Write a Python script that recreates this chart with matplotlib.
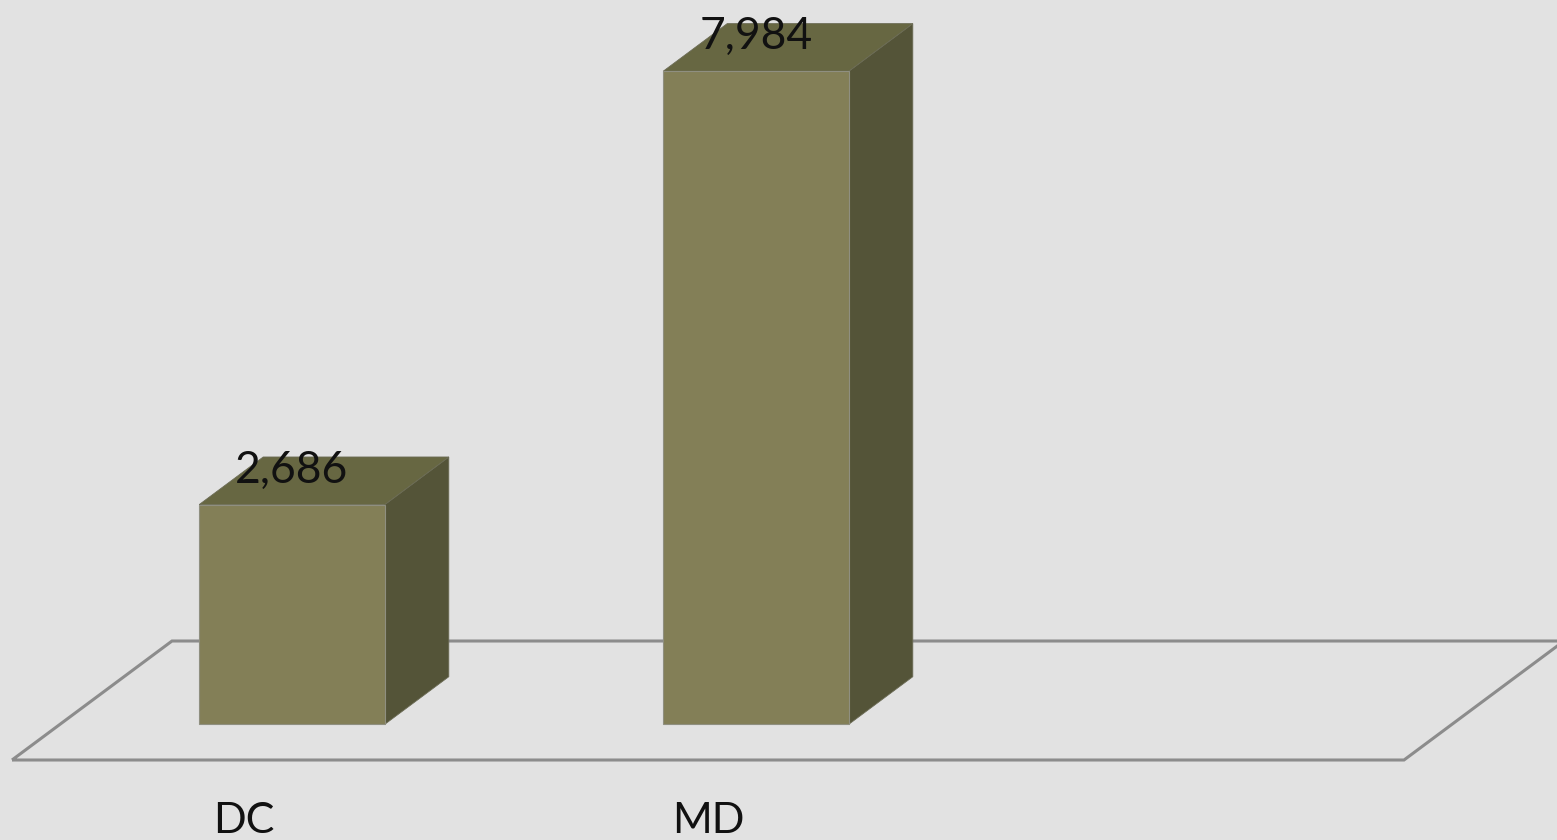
import matplotlib

matplotlib.use("Agg")

import matplotlib.pyplot as plt
from matplotlib.patches import Polygon

categories = ["DC", "MD", ""]
values = [2686, 7984, None]
value_labels = ["2,686", "7,984", ""]

BG = "#e2e2e2"
FRONT = "#837f57"
SIDE = "#545438"
TOP = "#676742"
FLOOR_LINE = "#8c8c8c"
FONT = ["Lato", "DejaVu Sans"]

# pixel-ish geometry of the fake 3D projection
W, H = 1557, 840
CAT_PX = 464.0            # width of one category slot on the floor front
K = 0.0818                # pixels per value unit
FLOOR_LEFT_PX = 12.0
FLOOR_FRONT_PX = 760.0
DEPTH_DX = 160.0 / CAT_PX  # full floor depth, in category units
DEPTH_DY = 119.0 / K       # full floor depth, in value units
BAR_T0, BAR_T1 = 0.30, 0.70
BAR_W = 0.40


def main():
    fig = plt.figure(figsize=(W / 100, H / 100), dpi=100)
    fig.patch.set_facecolor(BG)
    ax = fig.add_axes([0, 0, 1, 1])
    ax.set_facecolor(BG)
    x0 = -0.5 - FLOOR_LEFT_PX / CAT_PX
    ax.set_xlim(x0, x0 + W / CAT_PX)
    ax.set_ylim(-(H - FLOOR_FRONT_PX) / K, FLOOR_FRONT_PX / K)
    ax.axis("off")

    n = len(categories)
    floor = Polygon(
        [(-0.5, 0), (n - 0.5, 0), (n - 0.5 + DEPTH_DX, DEPTH_DY), (-0.5 + DEPTH_DX, DEPTH_DY)],
        closed=True, fill=False, edgecolor=FLOOR_LINE, linewidth=2.2, zorder=1,
    )
    ax.add_patch(floor)

    bdx = (BAR_T1 - BAR_T0) * DEPTH_DX
    bdy = (BAR_T1 - BAR_T0) * DEPTH_DY
    for i, v in enumerate(values):
        if v is None:
            continue
        cx = i + BAR_T0 * DEPTH_DX
        base = BAR_T0 * DEPTH_DY
        left, right = cx - BAR_W / 2, cx + BAR_W / 2
        top = base + v
        ax.add_patch(Polygon(
            [(right, base), (right, top), (right + bdx, top + bdy), (right + bdx, base + bdy)],
            closed=True, facecolor=SIDE, edgecolor="#6b6b55", linewidth=0.6, zorder=2,
        ))
        ax.add_patch(Polygon(
            [(left, top), (right, top), (right + bdx, top + bdy), (left + bdx, top + bdy)],
            closed=True, facecolor=TOP, edgecolor="#6b6b55", linewidth=0.6, zorder=2,
        ))
        ax.bar(cx, v, width=BAR_W, bottom=base, color=FRONT,
               edgecolor="#8f8f80", linewidth=0.8, zorder=3)
        ax.text(cx, top + 22 / K, value_labels[i], ha="center", va="baseline",
                fontsize=32, family=FONT, fontweight="normal",
                color="#111111", zorder=5)

    for i, cat in enumerate(categories):
        if not cat:
            continue
        ax.text(i, -73 / K, cat, ha="center", va="baseline",
                fontsize=31, family=FONT, fontweight="normal",
                color="#111111")

    fig.savefig("out.png", dpi=100, facecolor=BG)
    plt.close(fig)


if __name__ == "__main__":
    main()
